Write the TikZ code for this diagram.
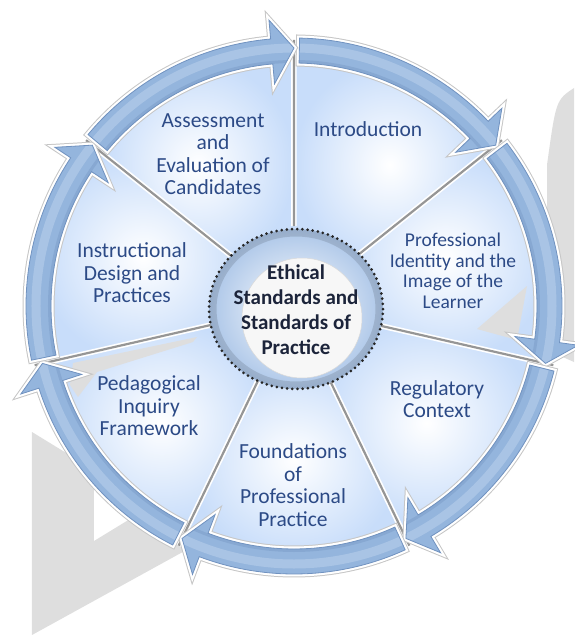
\documentclass[tikz,border=0pt]{standalone}
\usepackage{fontspec}
\setmainfont{Carlito}
\definecolor{ringblue}{RGB}{148,181,221}
\definecolor{ringedge}{RGB}{112,146,192}
\definecolor{ringlight}{RGB}{196,215,239}
\definecolor{sectorblue}{RGB}{200,221,250}
\definecolor{innerblue}{RGB}{172,198,232}
\definecolor{textblue}{RGB}{44,74,134}
\definecolor{ethicstext}{RGB}{28,36,58}
\definecolor{markgray}{RGB}{222,222,222}
\definecolor{splitgray}{RGB}{150,150,150}
\tikzset{
  watermark/.style={fill=markgray},
  sectorfill/.style={inner color=white, outer color=sectorblue},
  split/.style={draw=splitgray, line width=2.2, preaction={draw=white, line width=5.5}},
  halo/.style={draw=white, line width=5, preaction={draw=gray!45, line width=7}},
  ringfill/.style={fill=ringblue, draw=ringedge, line width=0.8,
    path picture={\draw[ringlight, line width=9, opacity=.45] (0,0) circle[radius=258];
                  \draw[ringedge, line width=3, opacity=.35] (0,0) circle[radius=244.5];}},
  seglabel/.style={text=textblue, align=center, font=\fontsize{21.5}{22.5}\selectfont}
}
\newcommand{\ringarrow}[3][]{%
  \path[#1] ({#2-1.2}:268) arc[start angle={#2-1.2}, end angle={#3+5}, radius=268]
    -- ({#3+5}:287) -- (#3:258) -- ({#3+5}:223) -- ({#3+5}:243)
    arc[start angle={#3+5}, end angle={#2-1.2}, radius=243] -- cycle;}
\newcommand{\sectorwedge}[2]{%
  \path[sectorfill] (#1:60) -- (#1:245) arc[start angle=#1, end angle=#2, radius=245]
    -- (#2:60) arc[start angle=#2, end angle=#1, radius=60] -- cycle;}
\begin{document}
\begin{tikzpicture}[x=1pt,y=1pt]
\useasboundingbox (-294,-329) rectangle (280,306);
\fill[watermark] (-262,-126) -- (-262,-329) -- (-104,-242) -- (-164,-213) -- (-200,-235) -- (-200,-164) -- cycle;
\fill[watermark] (253,141) -- (253,-44) -- (280,-56) -- (280,218) .. controls (262,206) .. (253,141) -- cycle;
\sectorwedge{90}{38.571}
\sectorwedge{38.571}{-12.857}
\sectorwedge{-12.857}{-64.286}
\sectorwedge{-64.286}{-115.714}
\sectorwedge{-115.714}{-167.143}
\sectorwedge{-167.143}{-218.571}
\sectorwedge{141.429}{90}
\fill[watermark] (233,20) -- (183,-23) -- (223,-34) -- cycle;
\fill[watermark] (-221,-57) -- (-97,-31) -- (-101,-36) -- (-197,-66) -- (-216,-91) -- (-224,-79) -- cycle;
\draw[split] (90:80) -- (90:266) (38.571:80) -- (38.571:266) (-12.857:80) -- (-12.857:266)
  (-64.286:80) -- (-64.286:266) (-115.714:80) -- (-115.714:266) (-167.143:80) -- (-167.143:266)
  (141.429:80) -- (141.429:266);
\ringarrow[halo]{90}{38.571}
\ringarrow[halo]{38.571}{-12.857}
\ringarrow[halo]{-12.857}{-64.286}
\ringarrow[halo]{-64.286}{-115.714}
\ringarrow[halo]{-115.714}{-167.143}
\ringarrow[halo]{-167.143}{-218.571}
\ringarrow[halo]{141.429}{90}
\ringarrow[ringfill]{90}{38.571}
\ringarrow[ringfill]{38.571}{-12.857}
\ringarrow[ringfill]{-12.857}{-64.286}
\ringarrow[ringfill]{-64.286}{-115.714}
\ringarrow[ringfill]{-115.714}{-167.143}
\ringarrow[ringfill]{-167.143}{-218.571}
\ringarrow[ringfill]{141.429}{90}
\shade[inner color=white, outer color=innerblue] (2,-3) ellipse[x radius=87, y radius=80];
\draw[black, opacity=.12, line width=7] (2,-3) ellipse[x radius=83, y radius=76];
\fill[gray!6] (8,-12) circle[radius=60];
\draw[gray!30, line width=0.5] (8,-12) circle[radius=60];
\draw[black!85, line width=3, line cap=round, dash pattern=on 0pt off 5.2pt] (2,-3) ellipse[x radius=87, y radius=80];
\node[seglabel] (assess) at (-81,152) {Assessment\\and\\Evaluation of\\Candidates};
\node[seglabel] (intro) at (74,177) {Introduction};
\node[seglabel, font=\fontsize{19.5}{20.5}\selectfont] (profid) at (159,35) {Professional\\Identity and the\\Image of the\\Learner};
\node[seglabel] (regctx) at (143,-93) {Regulatory\\Context};
\node[seglabel] (found) at (-1,-179) {Foundations\\of\\Professional\\Practice};
\node[seglabel] (pedinq) at (-145,-100) {Pedagogical\\Inquiry\\Framework};
\node[seglabel] (instr) at (-162,33) {Instructional\\Design and\\Practices};
\node[text=ethicstext, align=center, font=\bfseries\fontsize{21}{25}\selectfont] (ethics) at (2,-4) {Ethical\\Standards and\\Standards of\\Practice};
\end{tikzpicture}
\end{document}
